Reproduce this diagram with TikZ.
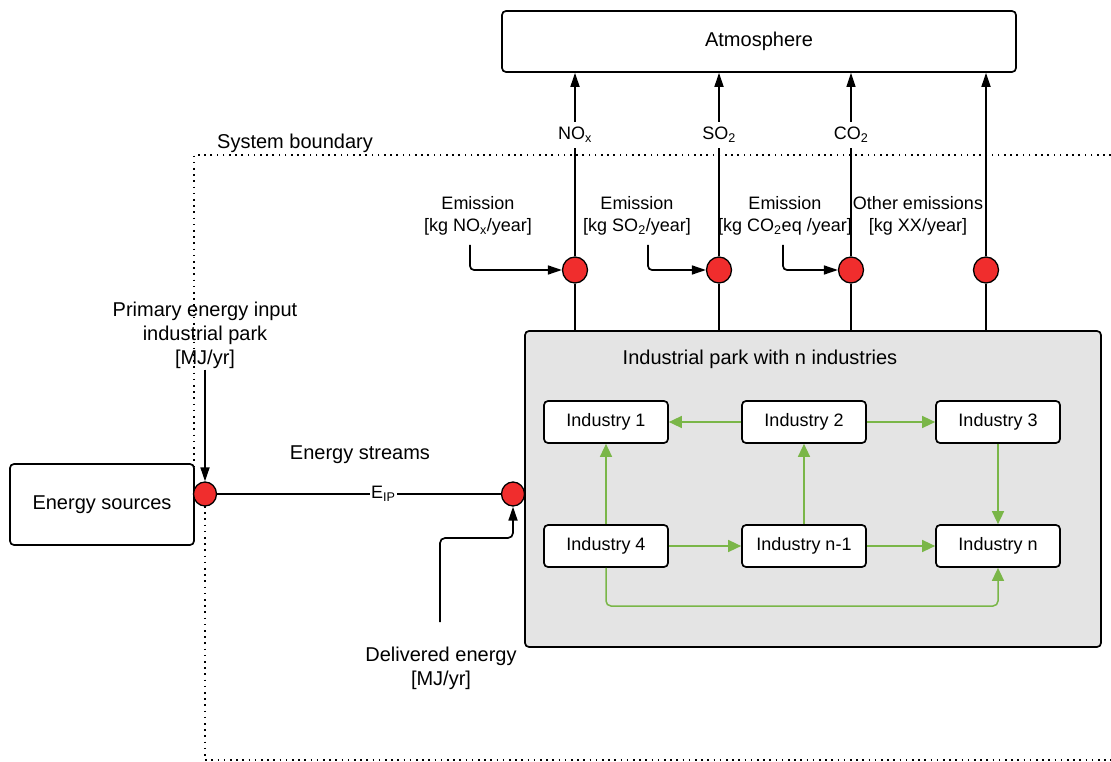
\documentclass[tikz,border=0pt]{standalone}
\usepackage{fontspec}
\setmainfont{Liberation Sans}
\usetikzlibrary{arrows.meta,shapes.geometric}
\definecolor{flowgreen}{RGB}{122,182,72}
\definecolor{nodered}{RGB}{240,45,45}
\definecolor{parkgray}{RGB}{228,228,228}
\newcommand{\bigtxt}{\fontsize{20}{24}\selectfont}
\newcommand{\smalltxt}{\fontsize{18}{22}\selectfont}
\tikzset{
  roundbox/.style={draw, line width=1.7pt, rounded corners=4pt, fill=white, inner sep=0pt},
  indbox/.style={roundbox, minimum width=124pt, minimum height=42pt, font=\smalltxt},
  junction/.style={ellipse, draw, line width=1.3pt, fill=nodered, inner sep=0pt},
  flow/.style={line width=1.7pt, -{Triangle[length=14pt,width=9pt]}},
  plain/.style={line width=1.7pt},
  thinflow/.style={line width=1.2pt},
  greenflow/.style={draw=flowgreen, line width=1.5pt, -{Triangle[length=13pt,width=12pt]}, flowgreen},
  boundary/.style={line width=1.6pt, dash pattern=on 1.6pt off 4.6pt},
  label/.style={align=center, inner sep=1pt},
}
\begin{document}
\begin{tikzpicture}[x=1pt,y=-1pt]
\useasboundingbox (0,0) rectangle (1111,762);

% system boundary
\draw[boundary] (1111,155) -- (194,155) -- (194,466);
\draw[boundary] (205,506) -- (205,760) -- (1111,760);
\node[label, font=\bigtxt, anchor=west] (sb) at (216,143) {System boundary};

% atmosphere
\node[roundbox, minimum width=514pt, minimum height=61pt, font=\bigtxt] (atm) at (759,41.5) {Atmosphere};

% industrial park
\node[roundbox, fill=parkgray, minimum width=576pt, minimum height=316pt] (park) at (813,489) {};
\node[label, font=\bigtxt] (ptitle) at (760,359) {Industrial park with n industries};

\node[indbox] (i1) at (606,422) {Industry 1};
\node[indbox] (i2) at (804,422) {Industry 2};
\node[indbox] (i3) at (998,422) {Industry 3};
\node[indbox] (i4) at (606,546) {Industry 4};
\node[indbox] (in1) at (804,546) {Industry n-1};
\node[indbox] (in) at (998,546) {Industry n};

\draw[greenflow] (i2.west) -- (i1.east);
\draw[greenflow] (i2.east) -- (i3.west);
\draw[greenflow] (i4.north) -- (i1.south);
\draw[greenflow] (in1.north) -- (i2.south);
\draw[greenflow] (i3.south) -- (in.north);
\draw[greenflow] (i4.east) -- (in1.west);
\draw[greenflow] (in1.east) -- (in.west);
\coordinate (gb) at (606,606);
\draw[greenflow, rounded corners=5pt] (i4.south) -- (gb) -| (in.south);

% emission junctions
\node[junction, minimum width=25pt, minimum height=26pt] (c1) at (575,270) {};
\node[junction, minimum width=25pt, minimum height=26pt] (c2) at (719,270) {};
\node[junction, minimum width=25pt, minimum height=26pt] (c3) at (851,270) {};
\node[junction, minimum width=25pt, minimum height=26pt] (c4) at (986,270) {};

\draw[plain] (c1.south) -- (c1.south |- park.north);
\draw[plain] (c2.south) -- (c2.south |- park.north);
\draw[thinflow] (c3.south) -- (c3.south |- park.north);
\draw[plain] (c4.south) -- (c4.south |- park.north);

\draw[flow] (c1.north) -- (c1.north |- atm.south);
\draw[flow] (c2.north) -- (c2.north |- atm.south);
\draw[thinflow, -{Triangle[length=14pt,width=9pt]}] (c3.north) -- (c3.north |- atm.south);
\draw[flow] (c4.north) -- (c4.north |- atm.south);

\node[label, font=\smalltxt, fill=white, inner sep=5pt] (lno) at (575,135) {NO\textsubscript{x}};
\node[label, font=\smalltxt, fill=white, inner sep=5pt] (lso) at (719,135) {SO\textsubscript{2}};
\node[label, font=\smalltxt, fill=white, inner sep=5pt] (lco) at (851,135) {CO\textsubscript{2}};

% emission inputs
\node[label, font=\smalltxt] (e1) at (478,216) {Emission\\{}[kg NO\textsubscript{x}/year]};
\node[label, font=\smalltxt] (e2) at (637,216) {Emission\\{}[kg SO\textsubscript{2}/year]};
\node[label, font=\smalltxt] (e3) at (785,216) {Emission\\{}[kg CO\textsubscript{2}eq /year]};
\node[label, font=\smalltxt] (e4) at (918,216) {Other emissions\\{}[kg XX/year]};

\coordinate (s1) at (470,245);
\coordinate (s2) at (648,245);
\coordinate (s3) at (783,245);
\draw[flow, rounded corners=4pt] (s1) |- (c1.west);
\draw[flow, rounded corners=4pt] (s2) |- (c2.west);
\draw[flow, rounded corners=4pt] (s3) |- (c3.west);

% energy supply
\node[roundbox, minimum width=184pt, minimum height=81pt, font=\bigtxt] (src) at (102,504.5) {Energy sources};
\node[junction, minimum width=23pt, minimum height=24pt] (j1) at (205,494) {};
\node[junction, minimum width=23pt, minimum height=24pt] (j2) at (513,494) {};

\node[label, font=\bigtxt] (pe) at (205,335) {Primary energy input\\industrial park\\{}[MJ/yr]};
\draw[flow] (pe.south) -- (j1.north);

\node[label, font=\bigtxt] (es) at (360,455) {Energy streams};
\draw[plain] (j1.east) -- node[pos=0.586, fill=white, inner sep=1pt, font=\smalltxt] (eip) {E\textsubscript{IP}} (j2.west);

\coordinate (d0) at (440,622);
\coordinate (d1) at (440,538);
\draw[flow, rounded corners=5pt] (d0) -- (d1) -| (j2.south);
\node[label, font=\bigtxt] (de) at (441,668) {Delivered energy\\{}[MJ/yr]};
\end{tikzpicture}
\end{document}
